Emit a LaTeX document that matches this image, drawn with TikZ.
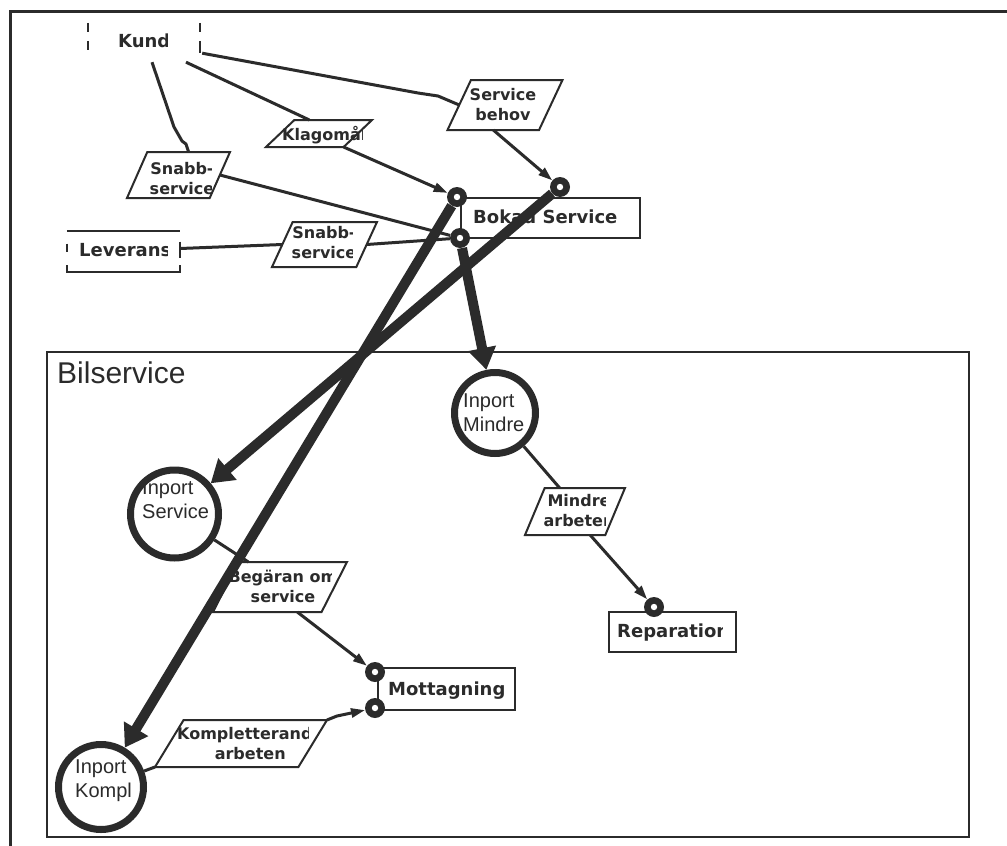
\documentclass[tikz,border=0pt]{standalone}
\usepackage{fontspec}
\setmainfont{Liberation Sans}
\newfontfamily\boxfont{DejaVu Sans}
\usetikzlibrary{arrows.meta,shapes.geometric,calc}
\definecolor{ink}{HTML}{2B2B2B}
\pgfdeclarelayer{paper}
\pgfsetlayers{paper,main}
\tikzset{
  tick/.style={draw=ink, line width=2.5pt},
  flowbox/.style={trapezium, trapezium stretches=true, draw=ink, line width=2pt,
    fill=white, inner sep=1pt, outer sep=0pt},
  lbl/.style={font=\boxfont\bfseries\fontsize{16}{20}\selectfont, text=ink,
    align=center, inner sep=0pt},
  pname/.style={font=\boxfont\bfseries\fontsize{18}{22}\selectfont, text=ink, inner sep=0pt},
  procbox/.style={draw=ink, line width=2pt, fill=white, inner sep=0pt},
  port/.style={circle, fill=ink, minimum size=20pt, inner sep=0pt,
    path picture={\fill[white] (path picture bounding box.center) circle (3.2pt);}},
  inport/.style={circle, draw=ink, line width=7pt, fill=white, inner sep=0pt},
  ptext/.style={font=\fontsize{20}{24}\selectfont, text=ink, align=left, inner sep=0pt},
  flow/.style={draw=ink, line width=3pt, line join=round},
  flowarrow/.style={flow, -{Triangle[length=14pt,width=9pt]}},
  bigarrow/.style={draw=ink, line width=10pt, -{Triangle[length=22pt,width=27pt]}}
}
\begin{document}
\begin{tikzpicture}[x=1pt,y=1pt]
\useasboundingbox (0,0) rectangle (1007,-846);
\begin{pgfonlayer}{paper}
  \fill[white] (0,0) rectangle (1007,-846);
\end{pgfonlayer}

% sheet edges
\draw[ink, line width=3pt] (10,-846) -- (10,-11) -- (1007,-11);

% Bilservice container
\node[draw=ink, line width=2pt, minimum width=922pt, minimum height=485pt, inner sep=0pt]
  (bil) at (508,-594.5) {};
\node[font=\fontsize{30}{34}\selectfont, text=ink, anchor=base west, inner sep=0pt]
  (biltxt) at (57,-383) {Bilservice};

% external entity: Kund
\node[minimum width=112pt, minimum height=30pt, inner sep=0pt] (kund) at (144,-38) {};
\draw[tick] (kund.north west) -- ++(0,-9) ++(0,-9) -- ++(0,-9);
\draw[tick] (kund.north east) -- ++(0,-9) ++(0,-9) -- (kund.south east);
\begin{scope}
  \clip (100,-20) rectangle (167,-60);
  \node[pname, anchor=base west] (kundtxt) at (118,-47) {Kund};
\end{scope}

% external entity: Leverans
\node[minimum width=113pt, minimum height=41pt, inner sep=0pt] (lev) at (123.5,-251.5) {};
\draw[tick] (lev.north west) -- (lev.north east);
\draw[tick] ($(lev.south west)+(0,7)$) -- (lev.south west) -- (lev.south east) -- ++(0,7);
\draw[tick] ($(lev.west)+(0,8)$) -- (lev.west);
\draw[tick] ($(lev.east)+(0,10)$) -- ($(lev.east)+(0,-6)$);
\begin{scope}
  \clip (70,-235) rectangle (167,-268);
  \node[pname, anchor=base west] (levtxt) at (79,-256) {Leverans};
\end{scope}

% flow labels
\node[flowbox, trapezium left angle=60, trapezium right angle=120,
  minimum width=106pt, minimum height=27pt] (klag) at (319,-133.5) {};
\begin{scope}
  \clip (270,-118) rectangle (362,-150);
  \node[lbl, anchor=base west] (klagtxt) at (282,-140) {Klagomål};
\end{scope}

\node[flowbox, trapezium left angle=71, trapezium right angle=109,
  minimum width=115pt, minimum height=50pt] (sbehov) at (505,-105) {};
\node[lbl] (sbehovtxt) at (503,-105) {Service\\behov};

\node[flowbox, trapezium left angle=72, trapezium right angle=108,
  minimum width=103pt, minimum height=46pt] (snabbA) at (178.5,-175) {};
\begin{scope}
  \clip (135,-150) rectangle (211,-200);
  \node[lbl] (snabbAtxt) at (182,-179) {Snabb-\\service};
\end{scope}

\node[flowbox, trapezium left angle=72, trapezium right angle=108,
  minimum width=105pt, minimum height=45pt] (snabbB) at (324.5,-244.5) {};
\begin{scope}
  \clip (280,-220) rectangle (352,-270);
  \node[lbl] (snabbBtxt) at (324,-243) {Snabb-\\service};
\end{scope}

\node[flowbox, trapezium left angle=72, trapezium right angle=108,
  minimum width=100pt, minimum height=47pt] (mindre) at (575,-511.5) {};
\begin{scope}
  \clip (535,-486) rectangle (605,-537);
  \node[lbl] (mindretxt) at (579,-511) {Mindre\\arbeten};
\end{scope}

\node[flowbox, trapezium left angle=73, trapezium right angle=107,
  minimum width=134pt, minimum height=50pt] (begaran) at (280,-587) {};
\begin{scope}
  \clip (215,-560) rectangle (331,-614);
  \node[lbl] (begarantxt) at (283,-586) {Begäran om\\service};
\end{scope}

\node[flowbox, trapezium left angle=76, trapezium right angle=104,
  minimum width=172pt, minimum height=47pt] (kompl) at (241,-743.5) {};
\begin{scope}
  \clip (165,-718) rectangle (308,-769);
  \node[lbl, anchor=west] (kompltxt) at (177,-744) {Kompletterande\\arbeten};
\end{scope}

% processes
\node[procbox, minimum width=179pt, minimum height=40pt] (bokad) at (550.5,-218) {};
\begin{scope}
  \clip (465,-200) rectangle (625,-236);
  \node[pname, anchor=base west] (bokadtxt) at (473,-223) {Bokad Service};
\end{scope}

\node[procbox, minimum width=137pt, minimum height=42pt] (mottag) at (446.5,-689) {};
\node[pname, anchor=base west] (mottagtxt) at (388,-695) {Mottagning};

\node[procbox, minimum width=127pt, minimum height=40pt] (repar) at (672.5,-632) {};
\begin{scope}
  \clip (612,-614) rectangle (722,-650);
  \node[pname, anchor=base west] (repartxt) at (617,-637) {Reparation};
\end{scope}

% ports
\node[port] (p1) at (457,-197) {};
\node[port] (p2) at (460,-238) {};
\node[port] (p3) at (560,-187) {};
\node[port] (m1) at (375,-672) {};
\node[port] (m2) at (375,-708) {};
\node[port] (rp) at (654,-607) {};

% inports
\node[inport, minimum size=88pt] (insvc) at (174.5,-514) {};
\node[ptext, anchor=west] (insvctxt) at (142,-500) {Inport\\Service};
\node[inport, minimum size=81pt] (inmin) at (495,-413) {};
\node[ptext, anchor=west] (inmintxt) at (463,-413) {Inport\\Mindre};
\node[inport, minimum size=85pt] (inkom) at (101,-787) {};
\node[ptext, anchor=west] (inkomtxt) at (75,-781) {Inport\\Kompl};

% thin data flows
\draw[flow] ($(kund.south east)+(2,0)$) -- (418,-93) -- (438,-96) -- (sbehov.left side);
\draw[flow] ($(kund.south)+(42,-9)$) -- ($(klag.top left corner)+(15,0)$);
\draw[flow] ($(kund.south)+(8,-9)$) -- (174,-127) -- (178,-134) -- (182,-141)
  -- (186,-144) -- (snabbA.top side);
\draw[flowarrow] (klag.bottom right corner) -- (p1);
\draw[flowarrow] (sbehov.bottom side) -- (p3);
\draw[flow] (snabbA.right side) -- (p2);
\draw[flow] (p2) -- (snabbB.right side);
\draw[flow] (snabbB.left side) -- ($(lev.east)+(0,3)$);
\draw[flow] (insvc) -- ($(begaran.top left corner)+(10,0)$);
\draw[flowarrow] ($(begaran.bottom side)+(30,0)$) -- (m1);
\draw[flow] (inkom) -- (kompl.bottom left corner);
\draw[flowarrow] (kompl.top right corner) -- ++(10,4) -- (m2);
\draw[flow] (inmin) -- ($(mindre.top left corner)+(15,0)$);
\draw[flowarrow] ($(mindre.bottom side)+(25,0)$) -- (rp);

% dispatch arrows into the Bilservice inports
\draw[bigarrow] (p3) -- (insvc);
\draw[bigarrow] (p1) -- (inkom);
\draw[bigarrow] (p2) -- (inmin);
\end{tikzpicture}
\end{document}
